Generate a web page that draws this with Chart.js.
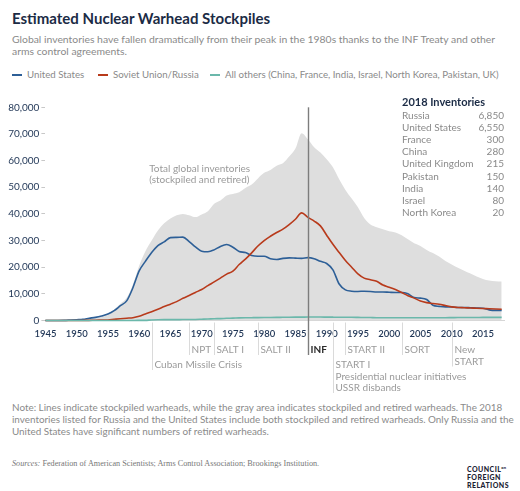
<!DOCTYPE html>
<html>
<head>
<meta charset="utf-8">
<script src="https://cdn.jsdelivr.net/npm/chart.js@4.4.1/dist/chart.umd.min.js"></script>
<style>
  body { margin: 0; width: 520px; height: 491px; background: #fff; font-family: Lato, sans-serif; position: relative; overflow: hidden; }
  .abs { position: absolute; white-space: nowrap; }
  #title { left: 12px; top: 10px; font-size: 15px; line-height: 17px; font-weight: 700; color: #1b2b45; }
  #sub { left: 12px; top: 32.5px; font-size: 10.4px; line-height: 12.4px; color: #8a8a8a; }
  .leg { top: 68px; font-size: 9.7px; line-height: 12px; color: #8a8a8a; }
  .leg i { display: inline-block; width: 10px; height: 2px; vertical-align: middle; margin: -2px 5px 0 0; }
  #chart { position: absolute; left: 0; top: 90px; }
  #inv { left: 402px; top: 94.5px; width: 102px; font-size: 10px; line-height: 12.2px; color: #8a8a8a; }
  #inv .h { font-size: 11px; font-weight: 700; color: #1b2b45; line-height: 13px; margin-bottom: 1px; }
  #inv .r { display: flex; justify-content: space-between; }
  #note { left: 12px; top: 400.5px; font-size: 9.9px; line-height: 12.3px; color: #8a8a8a; }
  #src { left: 12px; top: 459px; font-family: "Liberation Serif", serif; font-size: 8.2px; line-height: 10px; color: #777; }
  #logo { left: 467px; top: 464px; font-size: 7px; line-height: 8px; font-weight: 900; color: #1c2333; letter-spacing: 0.45px; }
  #logo sup { font-size: 4px; letter-spacing: 0; }
</style>
</head>
<body>
<div id="title" class="abs">Estimated Nuclear Warhead Stockpiles</div>
<div id="sub" class="abs">Global inventories have fallen dramatically from their peak in the 1980s thanks to the INF Treaty and other<br>arms control agreements.</div>
<div class="abs leg" style="left:12px"><i style="background:#2d5f97"></i>United States</div>
<div class="abs leg" style="left:98px"><i style="background:#b83a1b"></i>Soviet Union/Russia</div>
<div class="abs leg" style="left:210px"><i style="background:#6bb8ab"></i>All others (China, France, India, Israel, North Korea, Pakistan, UK)</div>

<canvas id="chart" width="520" height="310"></canvas>

<div id="inv" class="abs"></div>

<div id="note" class="abs">Note: Lines indicate stockpiled warheads, while the gray area indicates stockpiled and retired warheads. The 2018<br>inventories listed for Russia and the United States include both stockpiled and retired warheads. Only Russia and the<br>United States have significant numbers of retired warheads.</div>
<div id="src" class="abs"><i>Sources:</i> Federation of American Scientists; Arms Control Association; Brookings Institution.</div>
<div id="logo" class="abs">COUNCIL<sup>on</sup><br>FOREIGN<br>RELATIONS</div>

<script>
const years = [1945, 1946, 1947, 1948, 1949, 1950, 1951, 1952, 1953, 1954,
  1955, 1956, 1957, 1958, 1959, 1960, 1961, 1962, 1963, 1964,
  1965, 1966, 1967, 1968, 1969, 1970, 1971, 1972, 1973, 1974,
  1975, 1976, 1977, 1978, 1979, 1980, 1981, 1982, 1983, 1984,
  1985, 1986, 1987, 1988, 1989, 1990, 1991, 1992, 1993, 1994,
  1995, 1996, 1997, 1998, 1999, 2000, 2001, 2002, 2003, 2004,
  2005, 2006, 2007, 2008, 2009, 2010, 2011, 2012, 2013, 2014,
  2015, 2016, 2017, 2018]

const usValues = [2, 9, 13, 50, 170, 300, 440, 840, 1170, 1700,
  2420, 3690, 5540, 7350, 12300, 18600, 22200, 25500, 28100, 29500,
  31100, 31200, 31300, 29600, 27600, 26000, 25800, 26500, 27800, 28500,
  27500, 25900, 25500, 24400, 24100, 24100, 23200, 22900, 23300, 23500,
  23400, 23300, 23600, 23200, 22200, 21400, 19000, 13700, 11500, 11000,
  10900, 11000, 10900, 10700, 10700, 10600, 10500, 10500, 10000, 8600,
  8400, 7900, 5700, 5300, 5100, 5100, 4900, 4900, 4800, 4700,
  4600, 4000, 3800, 3800]

const russiaValues = [0, 0, 0, 0, 1, 5, 25, 50, 120, 150,
  200, 430, 660, 870, 1060, 1600, 2470, 3320, 4240, 5220,
  6130, 7090, 8340, 9400, 10540, 11640, 13090, 14480, 15920, 17390,
  18500, 21000, 23040, 25390, 27940, 30000, 31600, 33000, 34300, 36000,
  38000, 40400, 38700, 37300, 35500, 32000, 28600, 25500, 22500, 20000,
  17500, 15900, 15300, 14700, 13300, 12500, 11600, 10500, 9300, 8400,
  7300, 6700, 6400, 6100, 5600, 5100, 4900, 4800, 4700, 4600,
  4500, 4400, 4300, 4200]

const othersValues = [0, 0, 0, 0, 0, 0, 0, 1, 1, 5,
  10, 15, 20, 22, 25, 30, 50, 205, 280, 310,
  310, 330, 360, 380, 400, 480, 560, 660, 720, 820,
  890, 980, 1030, 1060, 1090, 1110, 1130, 1160, 1200, 1230,
  1250, 1270, 1300, 1300, 1300, 1270, 1250, 1230, 1200, 1200,
  1170, 1130, 1100, 1050, 1050, 1050, 1050, 1030, 1030, 1020,
  1030, 1020, 1030, 1050, 1060, 1080, 1100, 1110, 1130, 1140,
  1160, 1170, 1180, 1185]

// stockpiled + retired, all countries (gray area)
const totalValues = [2, 9, 13, 50, 170, 305, 470, 890, 1300, 1860,
  2630, 4140, 6300, 8500, 13500, 20500, 26000, 30000, 33800, 36500,
  38300, 39500, 40000, 39500, 38800, 39800, 41000, 43800, 45000, 46900,
  47500, 48100, 49700, 51000, 53300, 55400, 56500, 58100, 59000, 61500,
  64500, 70300, 68000, 65000, 63000, 60500, 57500, 53000, 49000, 45800,
  42500, 38500, 36000, 35000, 34200, 33500, 33000, 32000, 30500, 29000,
  28000, 26500, 25300, 24000, 22300, 21000, 19800, 18700, 17600, 16500,
  15600, 15000, 14700, 14600]

const xTickYears = [1945, 1950, 1955, 1960, 1965, 1970, 1975, 1980, 1985, 1990, 1995, 2000, 2005, 2010, 2015]
const yTickValues = [0, 10000, 20000, 30000, 40000, 50000, 60000, 70000, 80000]

const eventYears = [1962, 1968, 1972, 1979, 1987, 1991, 1993, 2002, 2010]
const eventLabels = [['Cuban Missile Crisis'], ['NPT'], ['SALT I'], ['SALT II'], ['INF'],
  ['START I', 'Presidential nuclear initiatives', 'USSR disbands'], ['START II'], ['SORT'], ['New', 'START']]

const invCountries = ['Russia', 'United States', 'France', 'China', 'United Kingdom', 'Pakistan', 'India', 'Israel', 'North Korea']
const invValues = [6850, 6550, 300, 280, 215, 150, 140, 80, 20]

const usColor = '#2d5f97'
const russiaColor = '#b83a1b'
const othersColor = '#6bb8ab'
const grayFill = '#dedede'
const navy = '#1f3555'

// inventory table
const inv = document.getElementById('inv')
inv.innerHTML = '<div class="h">2018 Inventories</div>' +
  invCountries.map((c, i) => `<div class="r"><span>${c}</span><span>${invValues[i].toLocaleString('en-US')}</span></div>`).join('')

const toPoints = values => values.map((v, i) => ({ x: years[i], y: v }))

const lineStyle = { borderWidth: 1.6, pointRadius: 0, cubicInterpolationMode: 'monotone', fill: false, clip: 4 }

// event markers under the axis, plus the INF line through the plot
const eventsPlugin = {
  id: 'events',
  afterDatasetsDraw(chart) {
    const ctx = chart.ctx
    const xs = chart.scales.x
    const ys = chart.scales.y
    const area = chart.chartArea
    const rowY = [area.bottom + 29.5, area.bottom + 44.5]
    const lineGap = 11.5
    ctx.save()
    ctx.textBaseline = 'middle'
    ctx.textAlign = 'left'
    eventYears.forEach((yr, i) => {
      const lines = eventLabels[i]
      const x = Math.round(xs.getPixelForValue(yr)) + 0.5
      const row = (yr === 1962 || yr === 1991) ? 1 : 0
      const y0 = rowY[row]
      const bottom = y0 + (lines.length - 1) * lineGap + 5
      const isInf = yr === 1987
      ctx.strokeStyle = isInf ? '#7d7d7d' : '#dadada'
      ctx.lineWidth = isInf ? 1.4 : 1
      ctx.beginPath()
      ctx.moveTo(x, isInf ? area.top : area.bottom + 2)
      ctx.lineTo(x, bottom)
      ctx.stroke()
      ctx.fillStyle = isInf ? '#2b2b2b' : '#9a9a9a'
      ctx.font = isInf ? 'bold 10px Lato' : '10px Lato'
      lines.forEach((t, j) => ctx.fillText(t, x + 2, y0 + j * lineGap))
    })
    // gray area caption
    ctx.fillStyle = '#9a9a9a'
    ctx.font = '10px Lato'
    const cx = xs.getPixelForValue(1961.6)
    const cy = ys.getPixelForValue(56800)
    ctx.fillText('Total global inventories', cx, cy)
    ctx.fillText('(stockpiled and retired)', cx, cy + 11)
    ctx.restore()
  }
}

new Chart(document.getElementById('chart'), {
  type: 'line',
  data: {
    datasets: [
      { label: 'All others', data: toPoints(othersValues), borderColor: othersColor, ...lineStyle },
      { label: 'Soviet Union/Russia', data: toPoints(russiaValues), borderColor: russiaColor, ...lineStyle },
      { label: 'United States', data: toPoints(usValues), borderColor: usColor, ...lineStyle },
      {
        label: 'Total', data: toPoints(totalValues), borderWidth: 0, pointRadius: 0,
        backgroundColor: grayFill, fill: 'origin', cubicInterpolationMode: 'monotone'
      }
    ]
  },
  options: {
    responsive: false,
    animation: false,
    layout: { padding: { top: 17.3, right: 15.2, left: 0, bottom: 0 } },
    plugins: { legend: { display: false }, tooltip: { enabled: false } },
    scales: {
      x: {
        type: 'linear', min: 1945, max: 2018.5,
        afterBuildTicks: s => { s.ticks = xTickYears.map(v => ({ value: v })) },
        afterFit: s => { s.height = 79.5 },
        grid: { display: false, drawTicks: false },
        border: { display: true, color: '#d6d6d6' },
        ticks: {
          padding: 8, color: navy, maxRotation: 0, autoSkip: false,
          font: { family: 'Lato', size: 9.5, weight: '600' },
          callback: v => String(v)
        }
      },
      y: {
        min: 0, max: 80000,
        afterBuildTicks: s => { s.ticks = yTickValues.map(v => ({ value: v })) },
        afterFit: s => { s.width = 45.4 },
        grid: { drawOnChartArea: false, drawTicks: true, tickLength: 4, color: '#c8c8c8' },
        border: { display: false },
        ticks: {
          padding: 2, color: navy,
          font: { family: 'Lato', size: 10 },
          callback: v => v.toLocaleString('en-US')
        }
      }
    }
  },
  plugins: [eventsPlugin]
})
</script>
</body>
</html>
